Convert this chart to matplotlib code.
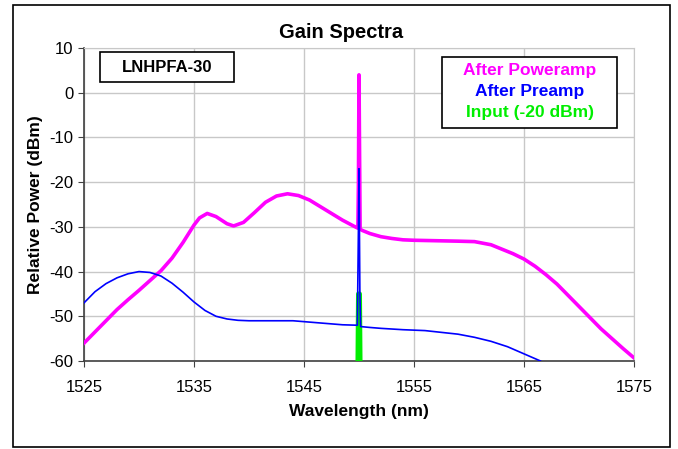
import numpy as np
import matplotlib.pyplot as plt
from matplotlib.patches import Rectangle

plt.rcParams['font.family'] = ['Liberation Sans', 'DejaVu Sans']
plt.rcParams['axes.unicode_minus'] = False

# After Poweramp (magenta)
wl_pow = [1525, 1526, 1527, 1528, 1529, 1530, 1531, 1532, 1533, 1534, 1535,
          1535.5, 1536.2, 1537, 1538, 1538.6, 1539.5, 1540.5, 1541.5, 1542.5,
          1543.5, 1544.5, 1545.5, 1546.5, 1547.5, 1548.5, 1549.5, 1549.9,
          1549.95, 1550.0, 1550.1, 1550.3, 1551, 1552, 1553, 1554, 1555,
          1557, 1559, 1560.5, 1562, 1563, 1564, 1565, 1566, 1567, 1568,
          1569, 1570, 1571, 1572, 1573, 1574, 1575]
pw_pow = [-56, -53.5, -51, -48.5, -46.3, -44.2, -42, -39.8, -37, -33.5, -29.6,
          -28, -27, -27.7, -29.3, -29.8, -29, -26.8, -24.5, -23.1,
          -22.6, -23, -24, -25.5, -27, -28.5, -29.8, -30.3,
          -20, 4, -30.5, -30.8, -31.5, -32.2, -32.6, -32.9, -33,
          -33.1, -33.2, -33.3, -34, -35, -36, -37.2, -38.8, -40.7, -42.8,
          -45.3, -47.8, -50.3, -52.8, -55, -57.2, -59.3]

# After Preamp (blue)
wl_pre = [1525, 1526, 1527, 1528, 1529, 1530, 1531, 1532, 1533, 1534, 1535,
          1536, 1537, 1538, 1539, 1540, 1542, 1544, 1545.5, 1547, 1548.5,
          1549.85, 1549.9, 1549.95, 1550.0, 1550.08, 1550.15, 1551, 1552,
          1554, 1556, 1557.5, 1559, 1560.5, 1562, 1563.5, 1565, 1566.5]
pw_pre = [-47, -44.5, -42.7, -41.4, -40.5, -40, -40.2, -41, -42.6, -44.6, -46.8,
          -48.7, -50, -50.6, -50.9, -51, -51, -51, -51.3, -51.6, -51.9,
          -52, -41, -30, -17, -45, -52.3, -52.5, -52.7,
          -53, -53.2, -53.6, -54, -54.7, -55.6, -56.8, -58.4, -60]

# Input (-20 dBm) (green)
wl_in = [1549.9, 1549.95, 1550.05, 1550.1]
pw_in = [-60, -45, -45, -60]

xticks = [1525, 1535, 1545, 1555, 1565, 1575]
yticks = [10, 0, -10, -20, -30, -40, -50, -60]

W, H = 678, 449


def fig_rect(x0, y0, x1, y1, **kw):
    # rectangle given in pixel coords (top-left origin)
    return Rectangle((x0 / W, 1 - y1 / H), (x1 - x0) / W, (y1 - y0) / H,
                     transform=fig.transFigure, **kw)


fig = plt.figure(figsize=(W / 100, H / 100), dpi=100)
fig.patches.append(fig_rect(13, 5, 670, 447, fill=False,
                            edgecolor='black', linewidth=1.2))
ax = fig.add_axes([84 / W, 1 - 361 / H, 550 / W, 313 / H])

ax.plot(wl_in, pw_in, color='#00ee00', linewidth=3.5, zorder=4)
ax.plot(wl_pow, pw_pow, color='#ff00ff', linewidth=2.6, zorder=3)
ax.plot(wl_pre, pw_pre, color='#0000ff', linewidth=1.2, zorder=5)

ax.set_xlim(1525, 1575)
ax.set_ylim(-60, 10)
ax.set_xticks(xticks)
ax.set_yticks(yticks)
ax.grid(True, color='#c8c8c8', linewidth=1)
ax.set_axisbelow(True)
for s in ['top', 'right']:
    ax.spines[s].set_color('#c8c8c8')
for s in ['left', 'bottom']:
    ax.spines[s].set_color('#404040')
    ax.spines[s].set_linewidth(1.2)
ax.tick_params(labelsize=12, length=4, color='#404040')
ax.tick_params(axis='x', pad=10)

fig.text(341 / W, 1 - 33 / H, 'Gain Spectra', ha='center', va='center',
         fontsize=14.5, fontweight='bold')
ax.set_xlabel('Wavelength (nm)', fontsize=12.5, fontweight='bold', labelpad=6)
ax.set_ylabel('Relative Power (dBm)', fontsize=12.5, fontweight='bold', labelpad=5)

# model label box
fig.patches.append(fig_rect(100, 52, 234, 82, facecolor='white',
                            edgecolor='black', linewidth=1.2, zorder=10))
fig.text(167 / W, 1 - 67 / H, 'LNHPFA-30', ha='center', va='center',
         fontsize=12, fontweight='bold', zorder=11)

# legend box
fig.patches.append(fig_rect(442, 57, 617, 128, facecolor='white',
                            edgecolor='black', linewidth=1.2, zorder=10))
legend_items = [('After Poweramp', '#ff00ff'), ('After Preamp', '#0000ff'),
                ('Input (-20 dBm)', '#00ee00')]
for i, (lab, col) in enumerate(legend_items):
    fig.text(530 / W, 1 - (71 + 20.5 * i) / H, lab, color=col,
             ha='center', va='center', fontsize=12.5, fontweight='bold',
             zorder=11)

fig.savefig('out.png', dpi=100)
